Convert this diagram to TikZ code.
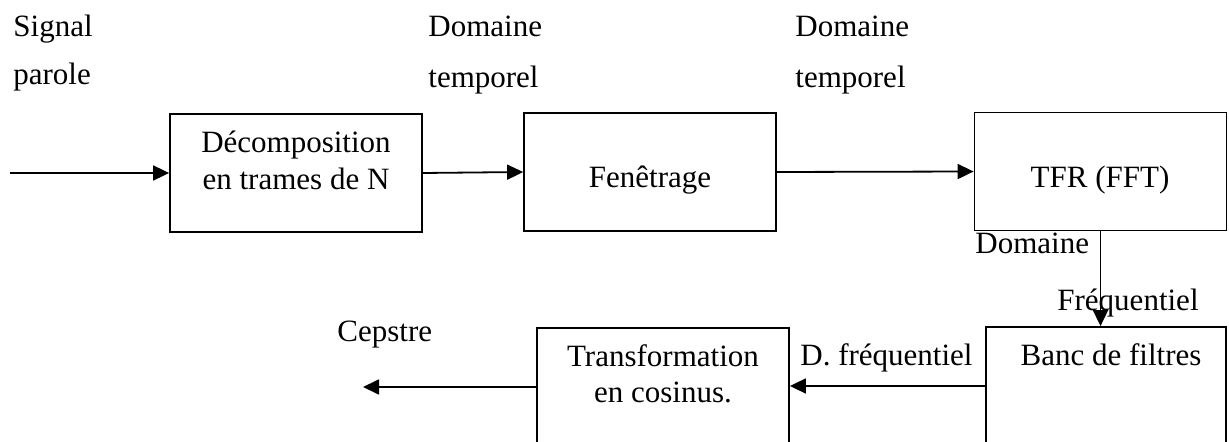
\documentclass[tikz,border=0pt]{standalone}
\usepackage{fontspec}
\setmainfont{Liberation Serif}
\usetikzlibrary{arrows.meta,positioning}

\begin{document}
\begin{tikzpicture}[x=0.5pt, y=-0.5pt, font=\fontsize{15.5}{18}\selectfont,
  blk/.style={draw, line width=0.9pt, minimum width=126pt, minimum height=59pt, inner sep=0pt},
  lbl/.style={anchor=base west, inner sep=0pt},
  txt/.style={anchor=base, inner sep=0pt},
  arr/.style={line width=0.9pt, -{Triangle[length=8pt,width=7.5pt]}}]
\useasboundingbox (0,0) rectangle (1229,442);
% blocs
\node[blk] (decomp) at (296,173) {};
\node[blk] (fen) at (650,172) {};
\node[blk] (tfr) at (1100.5,171.5) {};
\node[blk, minimum width=120pt] (banc) at (1106,386) {};
\node[blk] (transf) at (663,387) {};
% textes des blocs
\node[txt] (decompA) at (296,153) {Décomposition};
\node[txt] (decompB) at (296,190) {en trames de N};
\node[txt] (fenT) at (650,188) {Fenêtrage};
\node[txt] (tfrT) at (1100,188) {TFR (FFT)};
\node[txt] (bancT) at (1111,365) {Banc de filtres};
\node[txt] (transfA) at (663,367) {Transformation};
\node[txt] (transfB) at (663,402) {en cosinus.};
% etiquettes
\node[lbl] (sigA) at (13,37) {Signal};
\node[lbl] (sigB) at (13,85) {parole};
\node[lbl] (domA) at (428,37) {Domaine};
\node[lbl] (tmpA) at (428,88) {temporel};
\node[lbl] (domB) at (795,37) {Domaine};
\node[lbl] (tmpB) at (795,88) {temporel};
\node[lbl] (domC) at (975,254) {Domaine};
\node[lbl] (freqC) at (1057,311) {Fréquentiel};
\node[lbl] (dfreq) at (800,365) {D. fréquentiel};
\node[lbl] (cep) at (337,342) {Cepstre};
% liaisons
\coordinate (in) at (10,173);
\coordinate (out) at (363,387);
\draw[arr] (in) -- (decomp.west);
\draw[arr] (decomp.east) -- (fen.west);
\draw[arr] (fen.east) -- (tfr.west);
\draw[arr] (tfr.south) -- (tfr.south |- banc.north);
\draw[arr] (banc.west) -- (banc.west -| transf.east);
\draw[arr] (transf.west) -- (out);
\end{tikzpicture}
\end{document}
